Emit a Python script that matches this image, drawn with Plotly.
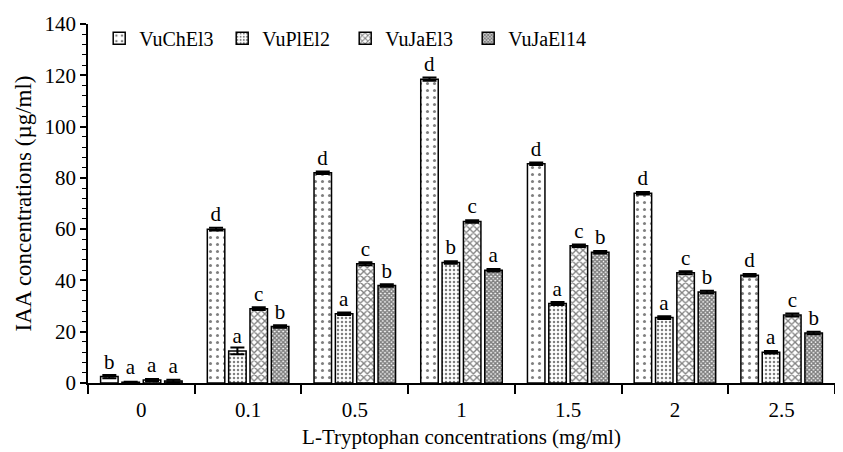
import plotly.graph_objects as go

categories = ["0", "0.1", "0.5", "1", "1.5", "2", "2.5"]
series_names = ["VuChEl3", "VuPlEl2", "VuJaEl3", "VuJaEl14"]
vuchel3 = [2.5, 60, 82, 118.5, 85.5, 74, 42]
vuplel2 = [0.3, 12.5, 27, 47, 31, 25.5, 12]
vujael3 = [1.2, 29, 46.5, 63, 53.5, 43, 26.5]
vujael14 = [0.8, 22, 38, 44, 51, 35.5, 19.5]
err_chel3 = [0.6, 0.5, 0.5, 0.6, 0.5, 0.5, 0.5]
err_plel2 = [0.2, 1.3, 0.5, 0.5, 0.6, 0.5, 0.5]
err_jael3 = [0.4, 0.5, 0.6, 0.5, 0.5, 0.6, 0.6]
err_jael14 = [0.5, 0.5, 0.5, 0.5, 0.5, 0.5, 0.5]
letters_chel3 = ["b", "d", "d", "d", "d", "d", "d"]
letters_plel2 = ["a", "a", "a", "b", "a", "a", "a"]
letters_jael3 = ["a", "c", "c", "c", "c", "c", "c"]
letters_jael14 = ["a", "b", "b", "a", "b", "b", "b"]

values = [vuchel3, vuplel2, vujael3, vujael14]
errors = [err_chel3, err_plel2, err_jael3, err_jael14]
letters = [letters_chel3, letters_plel2, letters_jael3, letters_jael14]
patterns = [
    dict(shape=".", size=7, solidity=0.15, fgcolor="black", bgcolor="white"),
    dict(shape=".", size=4, solidity=0.3, fgcolor="black", bgcolor="white"),
    dict(shape="x", size=5, solidity=0.45, fgcolor="black", bgcolor="white"),
    dict(shape="x", size=3, solidity=0.75, fgcolor="black", bgcolor="white"),
]

FONT = "Liberation Serif, Times New Roman, serif"

fig = go.Figure()
for name, v, e, l, p in zip(series_names, values, errors, letters, patterns):
    fig.add_trace(go.Bar(
        name=name, x=categories, y=v,
        error_y=dict(type="data", array=e, color="black", thickness=2, width=7),
        text=l, textposition="outside", cliponaxis=False,
        textfont=dict(family=FONT, size=21, color="black"),
        marker=dict(color="white", line=dict(color="black", width=1.5), pattern=p),
    ))

fig.update_layout(
    width=835, height=444,
    margin=dict(l=80, r=8, t=16, b=69, autoexpand=False),
    plot_bgcolor="white", paper_bgcolor="white",
    barmode="group", bargap=0.2, bargroupgap=0.18,
    font=dict(family=FONT, size=20, color="black"),
    showlegend=True,
    legend=dict(orientation="h", x=0.015, y=0.96, xanchor="left", yanchor="middle",
                font=dict(family=FONT, size=20), bgcolor="rgba(0,0,0,0)",
                itemwidth=30, entrywidth=78, tracegroupgap=0),
    xaxis=dict(
        type="category", showline=True, linecolor="black", linewidth=1.5,
        ticks="outside", tickson="boundaries", ticklen=9, tickcolor="black", tickwidth=1.5,
        ticklabelstandoff=7,
        showgrid=False,
        title=dict(text="L-Tryptophan concentrations (mg/ml)", font=dict(family=FONT, size=21), standoff=8),
        tickfont=dict(family=FONT, size=21),
    ),
    yaxis=dict(
        range=[0, 140], dtick=20, showline=True, linecolor="black", linewidth=1.5,
        ticks="outside", ticklen=6, tickcolor="black", tickwidth=1.5,
        minor=dict(dtick=4, ticks="outside", ticklen=4, tickcolor="black", tickwidth=1),
        showgrid=False, zeroline=False,
        title=dict(text="IAA concentrations (µg/ml)", font=dict(family=FONT, size=23), standoff=6),
        tickfont=dict(family=FONT, size=21),
    ),
)

fig.write_html("out.html")
